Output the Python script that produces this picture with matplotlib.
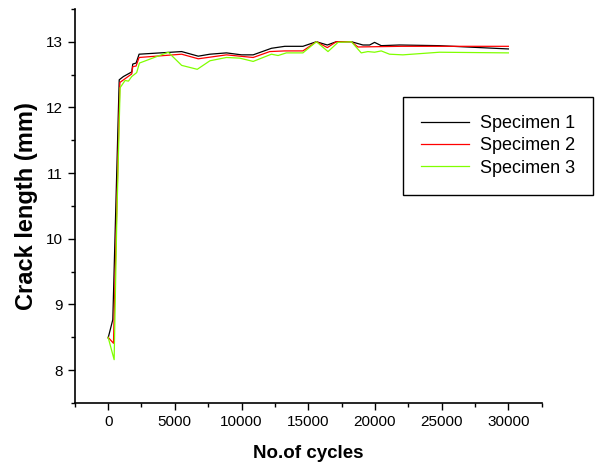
import matplotlib.pyplot as plt
from matplotlib.ticker import MultipleLocator

plt.rcParams['font.family'] = ['Liberation Sans', 'DejaVu Sans']

# Specimen 1 (black)
cycles_1 = [0, 350, 830, 1145, 1770, 1845, 2095, 2320, 5510, 6755, 7630, 8870, 9997,
            10870, 12240, 13240, 14600, 15610, 16430, 17100, 18230, 19100, 19600,
            19970, 20470, 21840, 24800, 30000]
length_1 = [8.49, 8.77, 12.42, 12.47, 12.54, 12.66, 12.675, 12.81, 12.85, 12.78, 12.81,
            12.83, 12.80, 12.80, 12.90, 12.93, 12.93, 13.0, 12.95, 13.0, 13.0, 12.95,
            12.95, 12.99, 12.94, 12.95, 12.94, 12.89]

# Specimen 2 (red)
cycles_2 = [0, 400, 880, 1770, 1845, 2095, 2320, 5510, 6755, 8870, 10870, 12117,
            13240, 14600, 15610, 16430, 17100, 18230, 18720, 22000, 30000]
length_2 = [8.5, 8.41, 12.38, 12.51, 12.62, 12.63, 12.76, 12.81, 12.74, 12.80, 12.76,
            12.85, 12.86, 12.86, 13.0, 12.91, 13.0, 13.0, 12.92, 12.93, 12.93]

# Specimen 3 (green)
cycles_3 = [0, 450, 650, 898, 1270, 1520, 1770, 2140, 2345, 4510, 5510, 6680, 7630,
            8870, 9870, 10870, 11740, 12240, 12740, 13360, 14600, 15610, 16480, 17230,
            18230, 18970, 19470, 19970, 20470, 21090, 22090, 24830, 30000]
length_3 = [8.5, 8.16, 10.3, 12.30, 12.41, 12.40, 12.47, 12.53, 12.675, 12.84, 12.64,
            12.58, 12.71, 12.76, 12.75, 12.70, 12.77, 12.81, 12.79, 12.83, 12.83, 13.0,
            12.85, 12.99, 13.0, 12.83, 12.85, 12.84, 12.86, 12.81, 12.80, 12.84, 12.83]

fig = plt.figure(figsize=(6.08, 4.67), dpi=100)
ax = fig.add_axes([0.123, 0.137, 0.768, 0.844])

ax.plot(cycles_1, length_1, color='black', lw=0.9, label='Specimen 1')
ax.plot(cycles_2, length_2, color='red', lw=0.9, label='Specimen 2')
ax.plot(cycles_3, length_3, color='#80FF00', lw=0.9, label='Specimen 3')

ax.set_xlim(-2500, 32500)
ax.set_ylim(7.5, 13.5)
ax.xaxis.set_major_locator(MultipleLocator(5000))
ax.xaxis.set_minor_locator(MultipleLocator(2500))
ax.yaxis.set_major_locator(MultipleLocator(1))
ax.yaxis.set_minor_locator(MultipleLocator(0.5))
ax.tick_params(which='major', direction='out', length=5, width=1, labelsize=11)
ax.tick_params(which='minor', direction='out', length=3, width=1)

ax.spines['top'].set_visible(False)
ax.spines['right'].set_visible(False)
ax.spines['left'].set_linewidth(1.2)
ax.spines['bottom'].set_linewidth(1.2)

ax.set_xlabel('No.of cycles', fontsize=13.5, fontweight='bold', labelpad=12)
ax.set_ylabel('Crack length (mm)', fontsize=17, fontweight='bold', labelpad=6)

leg = ax.legend(loc='upper left', bbox_to_anchor=(0.702, 0.777), fontsize=13,
                fancybox=False, edgecolor='black', framealpha=1,
                handlelength=2.7, handletextpad=0.6, borderpad=1.0,
                labelspacing=0.3, borderaxespad=0)
leg.get_frame().set_linewidth(1)

plt.savefig('out.png', dpi=100)
